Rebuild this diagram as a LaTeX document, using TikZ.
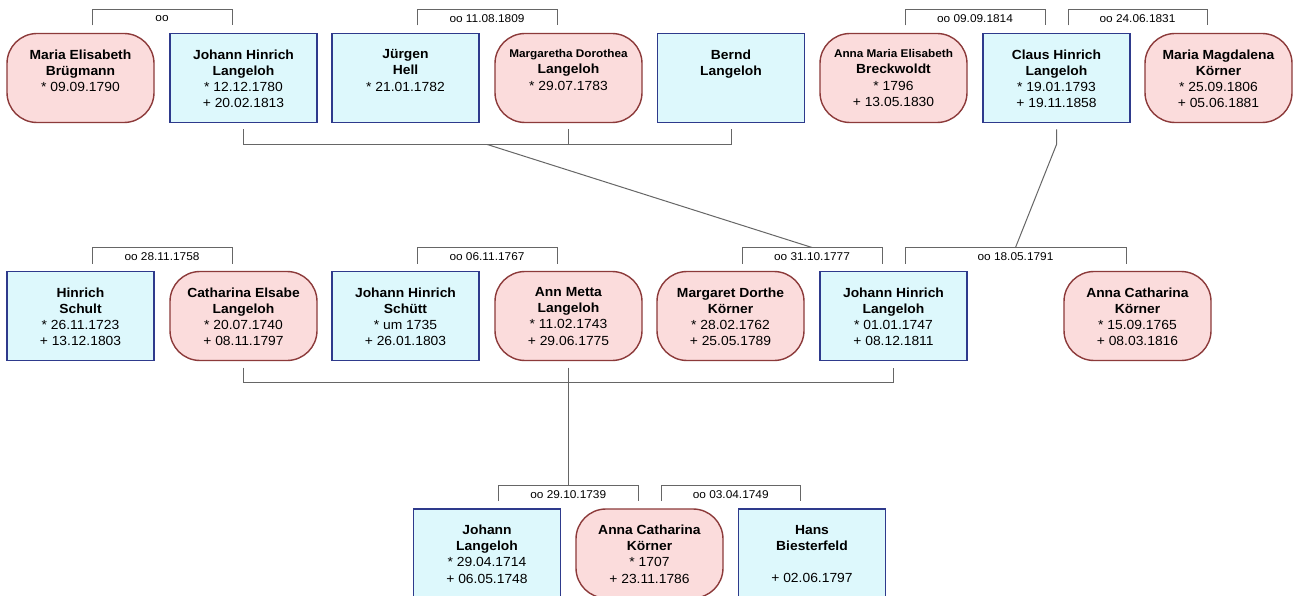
\documentclass[tikz,border=0pt]{standalone}
\usepackage{fontspec}
\setmainfont{Liberation Sans}[FakeStretch=1.05]
\usetikzlibrary{calc}

\definecolor{manfill}{HTML}{DDF8FC}
\definecolor{manline}{HTML}{2E3A8C}
\definecolor{womanfill}{HTML}{FBDCDC}
\definecolor{womanline}{HTML}{8C3A3A}
\definecolor{linkgray}{HTML}{666666}

% text block of one person card, set from the top
\newcommand\entry[1]{\parbox[c][89pt][t]{147pt}{\centering\fontsize{13.2}{16.2}\selectfont\vspace*{16pt}#1\par}}
\newcommand\nm[1]{\textbf{#1}}
\newcommand\smallnm[1]{{\fontsize{11.2}{16.2}\selectfont\textbf{#1}}}

% marriage bracket over two cards, with its date and a named midpoint
\newcommand\wedlock[4]{%
  \draw[link] ([shift={(11.5pt,8pt)}]#1.north) -- ([shift={(11.5pt,24pt)}]#1.north)
    -- ([shift={(-11.5pt,24pt)}]#2.north) -- ([shift={(-11.5pt,8pt)}]#2.north);
  \coordinate (#4) at ($([shift={(11.5pt,24pt)}]#1.north)!0.5!([shift={(-11.5pt,24pt)}]#2.north)$);
  \node[wed] (#4-date) at ([yshift=-9.5pt]#4) {#3};}

\tikzset{
  person/.style={inner sep=0pt, outer sep=0pt, line width=1.4pt,
    minimum width=147pt, minimum height=89pt},
  man/.style={person, draw=manline, fill=manfill},
  woman/.style={person, draw=womanline, fill=womanfill, rounded corners=30pt},
  link/.style={draw=linkgray, line width=1pt},
  wed/.style={font=\fontsize{11.3}{12}\selectfont, inner sep=1pt}
}

\begin{document}
\begin{tikzpicture}[x=1pt, y=-1pt]
\useasboundingbox[fill=white] (0,0) rectangle (1293,596);

% ---- youngest generation ----
\node[woman] (mb) at (80.5,78) {\entry{\nm{Maria Elisabeth}\\\nm{Brügmann}\\{}* 09.09.1790}};
\node[man] (jh) at (243.5,78) {\entry{\nm{Johann Hinrich}\\\nm{Langeloh}\\{}* 12.12.1780\\{}+ 20.02.1813}};
\node[man] (jg) at (405.5,78) {\entry{\nm{Jürgen}\\\nm{Hell}\\{}* 21.01.1782}};
\node[woman] (md) at (568.5,78) {\entry{\smallnm{Margaretha Dorothea}\\\nm{Langeloh}\\{}* 29.07.1783}};
\node[man] (bl) at (731,78) {\entry{\nm{Bernd}\\\nm{Langeloh}}};
\node[woman] (ab) at (893.5,78) {\entry{\smallnm{Anna Maria Elisabeth}\\\nm{Breckwoldt}\\{}* 1796\\{}+ 13.05.1830}};
\node[man] (ch) at (1056.5,78) {\entry{\nm{Claus Hinrich}\\\nm{Langeloh}\\{}* 19.01.1793\\{}+ 19.11.1858}};
\node[woman] (mk) at (1218.5,78) {\entry{\nm{Maria Magdalena}\\\nm{Körner}\\{}* 25.09.1806\\{}+ 05.06.1881}};

\wedlock{mb}{jh}{oo}{w1}
\wedlock{jg}{md}{oo 11.08.1809}{w1809}
\wedlock{ab}{ch}{oo 09.09.1814}{w1814}
\wedlock{ch}{mk}{oo 24.06.1831}{w1831}

% ---- middle generation ----
\node[man] (hs) at (80.5,316) {\entry{\nm{Hinrich}\\\nm{Schult}\\{}* 26.11.1723\\{}+ 13.12.1803}};
\node[woman] (ce) at (243.5,316) {\entry{\nm{Catharina Elsabe}\\\nm{Langeloh}\\{}* 20.07.1740\\{}+ 08.11.1797}};
\node[man] (js) at (405.5,316) {\entry{\nm{Johann Hinrich}\\\nm{Schütt}\\{}* um 1735\\{}+ 26.01.1803}};
\node[woman] (am) at (568.5,316) {\entry{\nm{Ann Metta}\\\nm{Langeloh}\\{}* 11.02.1743\\{}+ 29.06.1775}};
\node[woman] (mdk) at (730.5,316) {\entry{\nm{Margaret Dorthe}\\\nm{Körner}\\{}* 28.02.1762\\{}+ 25.05.1789}};
\node[man] (jhl) at (893.5,316) {\entry{\nm{Johann Hinrich}\\\nm{Langeloh}\\{}* 01.01.1747\\{}+ 08.12.1811}};
\node[woman] (ack) at (1137.5,316) {\entry{\nm{Anna Catharina}\\\nm{Körner}\\{}* 15.09.1765\\{}+ 08.03.1816}};

\wedlock{hs}{ce}{oo 28.11.1758}{w1758}
\wedlock{js}{am}{oo 06.11.1767}{w1767}
\wedlock{mdk}{jhl}{oo 31.10.1777}{w1777}
\wedlock{jhl}{ack}{oo 18.05.1791}{w1791}

% ---- oldest generation ----
\node[man] (jl) at (487,553.5) {\entry{\nm{Johann}\\\nm{Langeloh}\\{}* 29.04.1714\\{}+ 06.05.1748}};
\node[woman] (ak) at (649.5,553.5) {\entry{\nm{Anna Catharina}\\\nm{Körner}\\{}* 1707\\{}+ 23.11.1786}};
\node[man] (hb) at (812,553.5) {\entry{\nm{Hans}\\\nm{Biesterfeld}\\\mbox{}\\{}+ 02.06.1797}};

\wedlock{jl}{ak}{oo 29.10.1739}{w1739}
\wedlock{ak}{hb}{oo 03.04.1749}{w1749}

% ---- children brackets ----
\draw[link] ([yshift=-7pt]jh.south) -- ([yshift=-22pt]jh.south)
  -- ([yshift=-22pt]bl.south) -- ([yshift=-7pt]bl.south);
\draw[link] ([yshift=-7pt]md.south) -- ([yshift=-22pt]md.south);
\draw[link] ($([yshift=-22pt]jh.south)!0.5!([yshift=-22pt]bl.south)$) -- (w1777);

\draw[link] ([yshift=-7pt]ch.south) -- ([yshift=-22pt]ch.south) -- (w1791);

\draw[link] ([yshift=-7pt]ce.south) -- ([yshift=-22pt]ce.south)
  -- ([yshift=-22pt]jhl.south) -- ([yshift=-7pt]jhl.south);
\draw[link] ([yshift=-7pt]am.south) -- (am.south |- w1739);
\end{tikzpicture}
\end{document}
